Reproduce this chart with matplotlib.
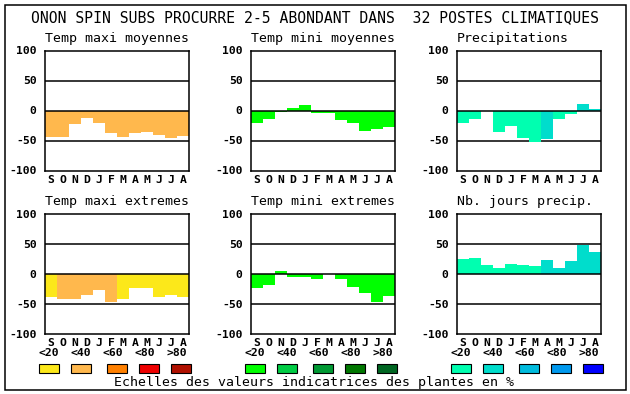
import numpy as np
import matplotlib
matplotlib.use('Agg')
import matplotlib.pyplot as plt
from matplotlib.patches import Rectangle

months = ['S', 'O', 'N', 'D', 'J', 'F', 'M', 'A', 'M', 'J', 'J', 'A']
class_labels = ['<20', '<40', '<60', '<80', '>80']

titles = ['Temp maxi moyennes', 'Temp mini moyennes', 'Precipitations',
          'Temp maxi extremes', 'Temp mini extremes', 'Nb. jours precip.']

tmax_moy = [-44, -44, -23, -13, -21, -38, -44, -38, -36, -41, -46, -42]
tmin_moy = [-21, -14, -3, 5, 10, -4, -4, -16, -21, -34, -31, -27]
precip = [-21, -14, 0, -36, -26, -46, -52, -47, -14, -6, 11, 2]
tmax_ext = [-38, -42, -42, -35, -27, -46, -41, -24, -24, -38, -35, -38]
tmin_ext = [-24, -18, 5, -5, -5, -8, 0, -8, -21, -32, -47, -36]
nb_jours = [25, 26, 15, 10, 17, 15, 13, 23, 10, 21, 48, 36]

# frequency class of each month (index into the colour scale)
cls_tmax_moy = [1] * 12
cls_tmin_moy = [0] * 12
cls_precip = [0, 0, 0, 0, 0, 0, 0, 1, 0, 0, 1, 1]
cls_tmax_ext = [0, 1, 1, 1, 1, 1, 0, 0, 0, 0, 0, 0]
cls_tmin_ext = [0] * 12
cls_nb_jours = [0, 0, 0, 0, 0, 0, 0, 1, 1, 1, 1, 1]

warm = ['#fce81a', '#ffb84d', '#ff8000', '#ee0000', '#b01000']
green = ['#00ff00', '#00cc44', '#009933', '#007700', '#006622']
blue = ['#00ffb0', '#00ddcc', '#00bbdd', '#0099ee', '#0000ff']

panels = [
    (tmax_moy, cls_tmax_moy, warm),
    (tmin_moy, cls_tmin_moy, green),
    (precip, cls_precip, blue),
    (tmax_ext, cls_tmax_ext, warm),
    (tmin_ext, cls_tmin_ext, green),
    (nb_jours, cls_nb_jours, blue),
]

W, H = 630, 394
fig = plt.figure(figsize=(W / 100, H / 100), dpi=100)
mono = 'DejaVu Sans Mono'

lefts = [45, 251, 457]
tops = [50.5, 214]
aw, ah = 144, 120

for i, (vals, cls, scale) in enumerate(panels):
    left = lefts[i % 3]
    top = tops[i // 3]
    ax = fig.add_axes([left / W, 1 - (top + ah) / H, aw / W, ah / H])
    x = np.arange(12)
    cols = [scale[c] for c in cls]
    for yv in (50, -50):
        ax.axhline(yv, color='black', lw=1.1, zorder=1)
    ax.bar(x, vals, width=1.0, color=cols, linewidth=0, zorder=2)
    ax.axhline(0, color='black', lw=1.1, zorder=3)
    ax.set_xlim(-0.5, 11.5)
    ax.set_ylim(-100, 100)
    ax.set_yticks([-100, -50, 0, 50, 100])
    ax.set_yticklabels(['-100', '-50', '0', '50', '100'],
                       fontfamily=mono, fontweight='bold', fontsize=8.2)
    ax.set_xticks(x)
    ax.set_xticklabels(months, fontfamily=mono, fontweight='bold', fontsize=8.2)
    ax.tick_params(length=0, pad=3)
    ax.tick_params(axis='y', pad=6)
    for s in ax.spines.values():
        s.set_linewidth(1.1)
    fig.text(left / W, 1 - (top - 12) / H, titles[i], fontfamily=mono,
             fontsize=9.5, ha='left', va='center')

ov = fig.add_axes([0, 0, 1, 1], zorder=-1)
ov.set_xlim(0, W)
ov.set_ylim(H, 0)
ov.axis('off')
ov.add_patch(Rectangle((4.5, 4.5), 621, 385, fill=False, ec='black', lw=1.1))

ov.text(315, 18, 'ONON SPIN SUBS PROCURRE 2-5 ABONDANT DANS  32 POSTES CLIMATIQUES',
        fontfamily=mono, fontsize=10.6, ha='center', va='center')

box_dx = [-6, 26, 62, 94, 126]
lab_dx = [4, 36, 68, 100, 132]
scales = [warm, green, blue]
for j, left in enumerate(lefts):
    for k in range(5):
        ov.text(left + lab_dx[k], 353, class_labels[k], fontfamily=mono,
                fontweight='bold', fontsize=8.2, ha='center', va='center')
        ov.add_patch(Rectangle((left + box_dx[k], 364), 20, 9,
                               fc=scales[j][k], ec='black', lw=0.8))

ov.text(314, 382.5, 'Echelles des valeurs indicatrices des plantes en %',
        fontfamily=mono, fontsize=9.5, ha='center', va='center')

fig.savefig('out.png', dpi=100)
